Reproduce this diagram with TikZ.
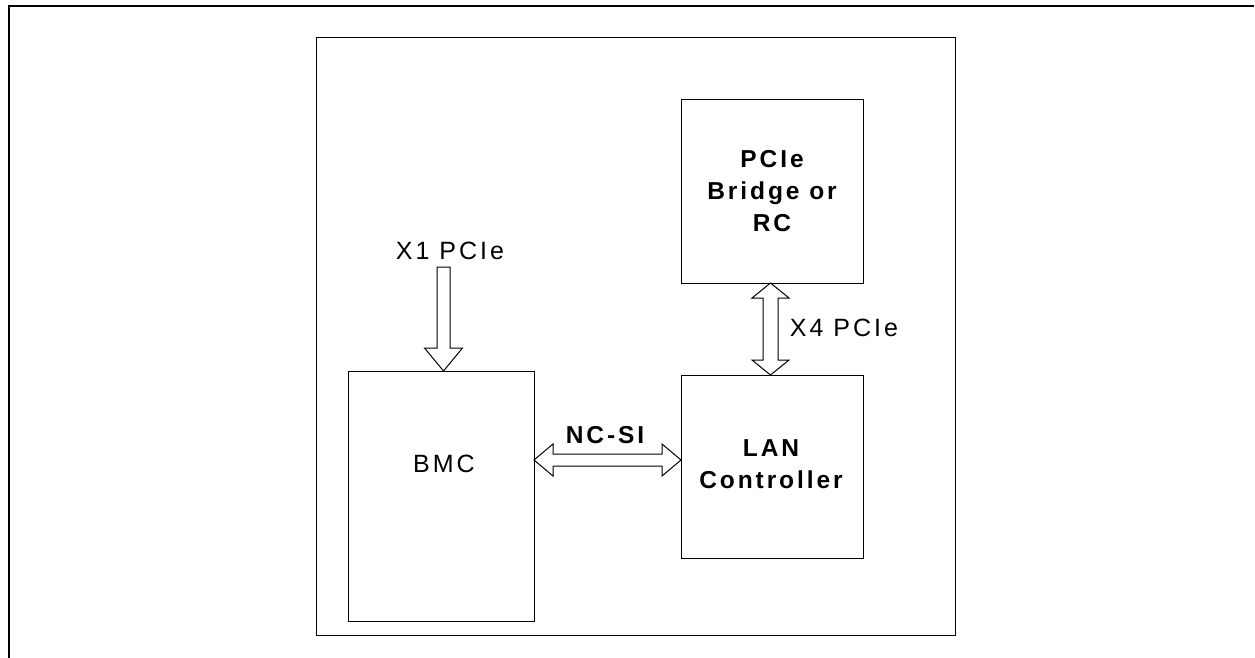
\documentclass[tikz,border=0pt]{standalone}
\usepackage{fontspec}
\setmainfont{Liberation Sans}
\newfontfamily\spacedfont[LetterSpace=12]{Liberation Sans}
\begin{document}
\begin{tikzpicture}[x=1pt,y=-1pt]
\tikzset{
  box/.style={draw, line width=1pt, inner sep=0pt, outer sep=0pt, anchor=north west},
  lbl/.style={inner sep=0pt, align=center, font=\spacedfont\fontsize{25}{32}\selectfont},
  blbl/.style={inner sep=0pt, align=center, font=\spacedfont\bfseries\fontsize{24.5}{32}\selectfont},
  hollow/.style={draw, line width=1pt, fill=white, line join=miter}
}
\useasboundingbox (0,0) rectangle (1255,658);
% frames
\draw[line width=2.5pt] (9,658) -- (9,6) -- (1254,6);
\draw[line width=1pt] (316,38) rectangle (955,635);
% boxes
\node[box, minimum width=186pt, minimum height=250pt] (bmc) at (348,371) {};
\node[box, minimum width=182pt, minimum height=183pt] (bridge) at (681,100) {};
\node[box, minimum width=182pt, minimum height=183pt] (lan) at (681,375) {};
% labels
\node[lbl] (bmcl) at (444,464) {BMC};
\node[blbl] (bridgel) at (bridge.center) {PCIe\\Bridge or\\RC};
\node[blbl] (lanl) at (771,464) {LAN\\Controller};
\node[lbl] (x1l) at (450,251) {X1 PCIe};
\node[lbl] (x4l) at (844,328) {X4 PCIe};
\node[blbl] (ncsil) at (605,435) {NC-SI};
% X1 PCIe arrow into BMC
\coordinate (x1top) at (443.5,267);
\draw[hollow] (437,267) -- (450,267) -- (450,348) -- (462.5,348) -- (443.5,371) -- (424.5,348) -- (437,348) -- cycle;
% NC-SI double arrow BMC <-> LAN
\draw[hollow] (534,460) -- (553,444) -- (553,454) -- (662,454) -- (662,444) -- (681,460)
  -- (662,476) -- (662,466) -- (553,466) -- (553,476) -- cycle;
% X4 PCIe double arrow Bridge <-> LAN
\draw[hollow] (770.5,283) -- (789,298) -- (778,298) -- (778,360) -- (789,360) -- (770.5,375)
  -- (752,360) -- (763,360) -- (763,298) -- (752,298) -- cycle;
\end{tikzpicture}
\end{document}
